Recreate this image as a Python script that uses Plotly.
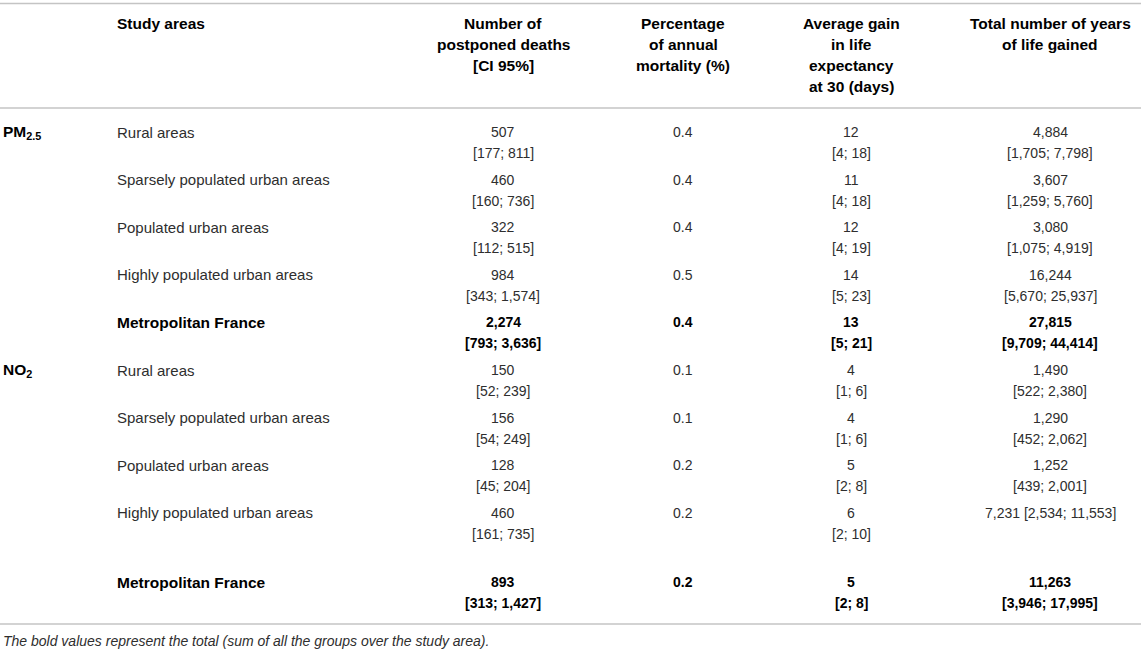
import plotly.graph_objects as go

# --- table data ---
areas = ["Rural areas", "Sparsely populated urban areas", "Populated urban areas",
         "Highly populated urban areas", "Metropolitan France"]
pollutants = ["PM<sub>2.5</sub>", "NO<sub>2</sub>"]

headers = [
    ["Number of", "postponed deaths", "[CI 95%]"],
    ["Percentage", "of annual", "mortality (%)"],
    ["Average gain", "in life", "expectancy", "at 30 (days)"],
    ["Total number of years", "of life gained"],
]

# PM2.5
pm_deaths = [507, 460, 322, 984, 2274]
pm_deaths_lo = [177, 160, 112, 343, 793]
pm_deaths_hi = [811, 736, 515, 1574, 3636]
pm_pct = [0.4, 0.4, 0.4, 0.5, 0.4]
pm_gain = [12, 11, 12, 14, 13]
pm_gain_lo = [4, 4, 4, 5, 5]
pm_gain_hi = [18, 18, 19, 23, 21]
pm_years = [4884, 3607, 3080, 16244, 27815]
pm_years_lo = [1705, 1259, 1075, 5670, 9709]
pm_years_hi = [7798, 5760, 4919, 25937, 44414]

# NO2
no2_deaths = [150, 156, 128, 460, 893]
no2_deaths_lo = [52, 54, 45, 161, 313]
no2_deaths_hi = [239, 249, 204, 735, 1427]
no2_pct = [0.1, 0.1, 0.2, 0.2, 0.2]
no2_gain = [4, 4, 5, 6, 5]
no2_gain_lo = [1, 1, 2, 2, 2]
no2_gain_hi = [6, 6, 8, 10, 8]
no2_years = [1490, 1290, 1252, 7231, 11263]
no2_years_lo = [522, 452, 439, 2534, 3946]
no2_years_hi = [2380, 2062, 2001, 11553, 17995]

footnote = "The bold values represent the total (sum of all the groups over the study area)."

# --- layout helpers ---
W, H = 1145, 653
FONT = "Liberation Sans, Arial, Helvetica, sans-serif"
REG = "#2e2e2e"
LINE = "#c4c4c4"
col_x = [503, 683, 851, 1050]
area_x = 115
group_x = 1
lh = 21.3
row_y = [132, 179.5, 227, 274.5, 322, 370, 417.5, 465, 512.5, 582]

ann = []


def txt(x, y, s, bold=False, anchor="center", size=14, italic=False):
    if bold:
        s = "<b>" + s + "</b>"
    if italic:
        s = "<i>" + s + "</i>"
    ann.append(dict(x=x, y=y, xref="x", yref="y", text=s, showarrow=False,
                    xanchor=anchor, yanchor="middle",
                    font=dict(family=FONT, size=size, color="#000" if bold else REG)))


# header
txt(area_x, 23, "Study areas", bold=True, anchor="left", size=15.5)
for cx, lines in zip(col_x, headers):
    for j, s in enumerate(lines):
        txt(cx, 23 + j * lh, s, bold=True, size=15.5)

groups = [
    (pm_deaths, pm_deaths_lo, pm_deaths_hi, pm_pct, pm_gain, pm_gain_lo, pm_gain_hi,
     pm_years, pm_years_lo, pm_years_hi),
    (no2_deaths, no2_deaths_lo, no2_deaths_hi, no2_pct, no2_gain, no2_gain_lo, no2_gain_hi,
     no2_years, no2_years_lo, no2_years_hi),
]

for g, (dth, dlo, dhi, pct, gn, glo, ghi, yrs, ylo, yhi) in enumerate(groups):
    txt(group_x, row_y[g * 5], pollutants[g], bold=True, anchor="left", size=15.5)
    for i, area in enumerate(areas):
        y = row_y[g * 5 + i]
        b = area == "Metropolitan France"
        txt(area_x, y, area, bold=b, anchor="left", size=15.5 if b else 15)
        txt(col_x[0], y, f"{dth[i]:,}", bold=b)
        txt(col_x[0], y + lh, f"[{dlo[i]:,}; {dhi[i]:,}]", bold=b)
        txt(col_x[1], y, f"{pct[i]:.1f}", bold=b)
        txt(col_x[2], y, f"{gn[i]:,}", bold=b)
        txt(col_x[2], y + lh, f"[{glo[i]:,}; {ghi[i]:,}]", bold=b)
        if g == 1 and i == 3:
            # printed on a single line in the source
            txt(col_x[3], y, f"{yrs[i]:,} [{ylo[i]:,}; {yhi[i]:,}]", bold=b)
        else:
            txt(col_x[3], y, f"{yrs[i]:,}", bold=b)
            txt(col_x[3], y + lh, f"[{ylo[i]:,}; {yhi[i]:,}]", bold=b)

txt(group_x, 641, footnote, anchor="left", size=14, italic=True)

shapes = [
    dict(type="line", xref="x", yref="y", x0=0, x1=1141, y0=y, y1=y,
         line=dict(color=LINE, width=1.5))
    for y in [3.5, 108, 624]
]

fig = go.Figure(go.Scatter(x=[], y=[]))
fig.update_layout(
    width=W, height=H,
    margin=dict(l=0, r=0, t=0, b=0),
    paper_bgcolor="white", plot_bgcolor="white",
    xaxis=dict(range=[0, W], visible=False, fixedrange=True),
    yaxis=dict(range=[H, 0], visible=False, fixedrange=True),
    annotations=ann, shapes=shapes, showlegend=False,
)

# drop the default page margin so the table sits at the window's corner
fig.write_html("out.html", config={"displayModeBar": False},
               post_script="document.body.style.margin='0';")
